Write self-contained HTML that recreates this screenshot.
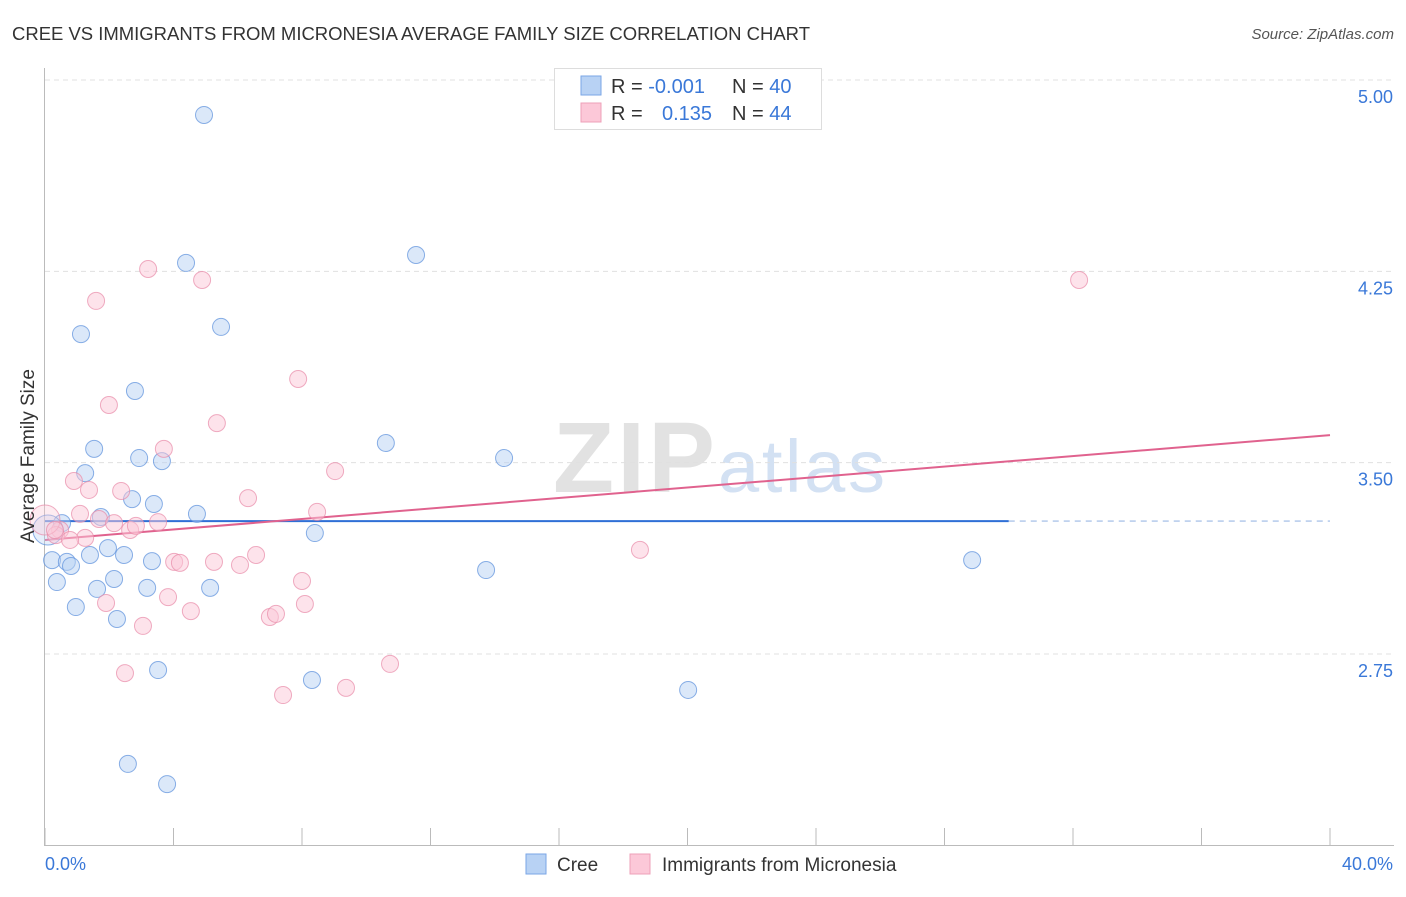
<!DOCTYPE html>
<html><head><meta charset="utf-8"><style>
body{margin:0;background:#fff;font-family:"Liberation Sans",sans-serif}
svg text{font-family:"Liberation Sans",sans-serif}
</style></head><body>
<svg id="chart" width="1406" height="892" viewBox="0 0 1406 892">
<text x="12" y="40" font-size="18.5" fill="#333" textLength="798">CREE VS IMMIGRANTS FROM MICRONESIA AVERAGE FAMILY SIZE CORRELATION CHART</text>
<text x="1394" y="39" font-size="15" fill="#555" text-anchor="end" font-style="italic">Source: ZipAtlas.com</text>
<g>
<text x="553" y="492" font-size="100" font-family="Liberation Serif" fill="#e2e2e2" font-weight="bold" textLength="162">ZIP</text>
<text x="718" y="492" font-size="74" fill="#d3e1f3" textLength="167">atlas</text>
</g>
<g id="grid"></g>
<g id="axes"></g>
<g id="lines"></g>
<g id="points"></g>
<text transform="translate(34,456) rotate(-90)" font-size="19" fill="#333" text-anchor="middle">Average Family Size</text>
<text x="45" y="870" font-size="18" fill="#3a78d8">0.0%</text>
<text x="1393" y="870" font-size="18" fill="#3a78d8" text-anchor="end">40.0%</text>
<g>
<rect x="554.5" y="68.5" width="267" height="61" fill="#fff" stroke="#ddd"/>
<rect x="581" y="76" width="20" height="19" fill="#b8d2f4" stroke="#7aa6e6"/>
<rect x="581" y="103" width="20" height="19" fill="#fcc8d8" stroke="#eea0b8"/>
<text x="611" y="93" font-size="20" fill="#333">R = <tspan fill="#3a78d8">-0.001</tspan></text>
<text x="732" y="93" font-size="20" fill="#333">N = <tspan fill="#3a78d8">40</tspan></text>
<text x="611" y="120" font-size="20" fill="#333">R = </text>
<text x="662" y="120" font-size="20" fill="#3a78d8">0.135</text>
<text x="732" y="120" font-size="20" fill="#333">N = <tspan fill="#3a78d8">44</tspan></text>
</g>
<g>
<rect x="526" y="854" width="20" height="20" fill="#b8d2f4" stroke="#7aa6e6"/>
<text x="557" y="871" font-size="19" fill="#333">Cree</text>
<rect x="630" y="854" width="20" height="20" fill="#fcc8d8" stroke="#eea0b8"/>
<text x="662" y="871" font-size="19" fill="#333">Immigrants from Micronesia</text>
</g>
</svg>
<script>
const yTicks=[5.00,4.25,3.50,2.75];
const yTickLabels=["5.00","4.25","3.50","2.75"];
const xTicks=[0,4,8,12,16,20,24,28,32,36,40];
const creeX=[4.95,4.39,11.55,5.48,1.12,2.80,1.53,10.61,2.93,3.64,14.29,1.25,2.71,3.39,4.73,1.74,0.53,8.40,1.96,1.40,2.46,0.22,0.68,0.81,3.33,28.86,13.73,0.37,2.15,1.62,3.18,5.14,0.96,2.24,3.52,8.31,20.02,2.58,3.80,0.09];
const creeY=[4.863,4.283,4.314,4.032,4.004,3.781,3.554,3.577,3.518,3.506,3.518,3.459,3.357,3.338,3.299,3.287,3.263,3.224,3.165,3.138,3.138,3.118,3.111,3.095,3.114,3.118,3.079,3.032,3.044,3.005,3.009,3.009,2.934,2.887,2.687,2.648,2.609,2.319,2.240,3.236];
const micX=[3.21,4.89,32.19,1.59,7.88,1.99,5.35,3.70,9.03,0.90,1.37,2.37,6.32,8.47,1.09,1.68,2.15,2.65,2.83,3.52,0.47,0.34,1.25,0.78,18.52,6.57,5.26,4.02,4.20,6.07,8.00,3.83,1.90,8.09,4.54,7.00,7.19,3.05,2.49,10.74,9.37,7.41,0.00,0.31];
const micY=[4.259,4.216,4.216,4.134,3.828,3.726,3.655,3.554,3.467,3.428,3.393,3.389,3.361,3.307,3.299,3.279,3.263,3.236,3.252,3.267,3.236,3.216,3.205,3.197,3.158,3.138,3.111,3.111,3.107,3.099,3.036,2.973,2.950,2.946,2.918,2.895,2.907,2.860,2.675,2.711,2.617,2.589,3.275,3.236];
const creeTrendX=[0,30];
const creeTrendY=[3.271,3.271];
const micTrendX=[0,40];
const micTrendY=[3.197,3.608];

const NS="http://www.w3.org/2000/svg";
const X0=45,X1=1330,Y5=80,PXU=255.1;
function sx(v){return X0+(v/40)*(X1-X0);}
function sy(v){return Y5+(5-v)*PXU;}
function mk(tag,attrs,parent){const e=document.createElementNS(NS,tag);for(const k in attrs)e.setAttribute(k,attrs[k]);document.getElementById(parent).appendChild(e);return e;}

yTicks.forEach((t,i)=>{
  const g=mk('line',{x1:45,x2:1394,y1:sy(t),y2:sy(t),stroke:'#e0e0e0','stroke-dasharray':'5,4'},'grid');
  
  
  const l=mk('text',{x:1393,y:sy(t)+23,'font-size':18,fill:'#3a78d8','text-anchor':'end'},'grid');
  l.textContent=yTickLabels[i];
  
  
});
let ax=mk('line',{x1:44.5,x2:44.5,y1:68,y2:845,stroke:'#bbb'},'axes');


ax=mk('line',{x1:44,x2:1394,y1:845.5,y2:845.5,stroke:'#bbb'},'axes');


xTicks.forEach(t=>{
  const tk=mk('line',{x1:sx(t),x2:sx(t),y1:828,y2:845,stroke:'#bbb'},'axes');
  
  
});

function pts(xs,ys,fill,stroke,name){
  xs.forEach((x,i)=>{
    const big=x<0.1;
    const c=mk('circle',{cx:sx(x),cy:sy(ys[i]),r:big?15:8.5,fill:fill,'fill-opacity':big?0.35:0.5,stroke:stroke,'stroke-opacity':0.7,'stroke-width':1},'points');
    
    
  });
}
pts(creeX,creeY,'#b8d2f4','#5a8fdc','cree-point');
pts(micX,micY,'#fcc8d8','#e88aa8','micronesia-point');

let ln=mk('line',{x1:sx(creeTrendX[0]),y1:sy(creeTrendY[0]),x2:sx(creeTrendX[1]),y2:sy(creeTrendY[1]),stroke:'#2f6fd6','stroke-width':2},'lines');


ln=mk('line',{x1:sx(creeTrendX[1]),y1:sy(creeTrendY[1]),x2:sx(40),y2:sy(creeTrendY[1]),stroke:'#9bb8e4','stroke-width':1.2,'stroke-dasharray':'6,5'},'lines');


ln=mk('line',{x1:sx(micTrendX[0]),y1:sy(micTrendY[0]),x2:sx(micTrendX[1]),y2:sy(micTrendY[1]),stroke:'#e0628e','stroke-width':2},'lines');


</script>
</body></html>
